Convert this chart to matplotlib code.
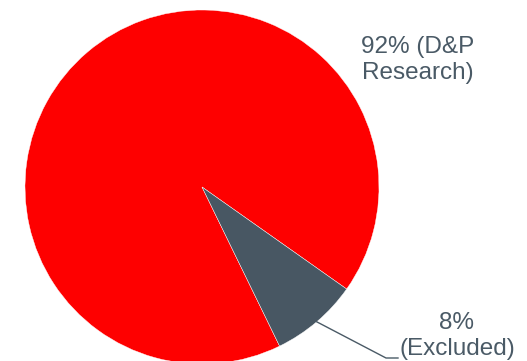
import numpy as np
import matplotlib
matplotlib.use('Agg')
import matplotlib.pyplot as plt

labels = ['92% (D&P\nResearch)', '8%\n(Excluded)']
shares = [92, 8]
colors = ['#fe0000', '#485763']
text_color = '#4a5a66'

W, H = 527, 361
fig = plt.figure(figsize=(W / 100, H / 100), dpi=100)
ax = fig.add_axes([0, 0, 1, 1])

cx, cy, r = 202, H - 187, 177
wedges, _ = ax.pie(shares, colors=colors, startangle=-35.2, center=(cx, cy),
                   radius=r, frame=True,
                   wedgeprops=dict(edgecolor='white', linewidth=0.3))
ax.set_xlim(0, W)
ax.set_ylim(0, H)
ax.set_aspect('equal')
ax.axis('off')

font = dict(family='Liberation Sans', size=17.5, color=text_color, ha='center')

# big slice label, top right
ax.text(418, H - 60, labels[0], va='center', linespacing=1.25, **font)

# small slice label with a leader line from the wedge edge
w = wedges[1]
mid = np.deg2rad((w.theta1 + w.theta2) / 2)
x0, y0 = cx + r * np.cos(mid), cy + r * np.sin(mid)
ax.plot([x0, 386, 398], [y0, H - 358, H - 358], color=text_color, lw=1.0,
        clip_on=False)
ax.text(457, H - 336, labels[1], va='center', linespacing=1.2, **font)

fig.savefig('out.png', dpi=100)
